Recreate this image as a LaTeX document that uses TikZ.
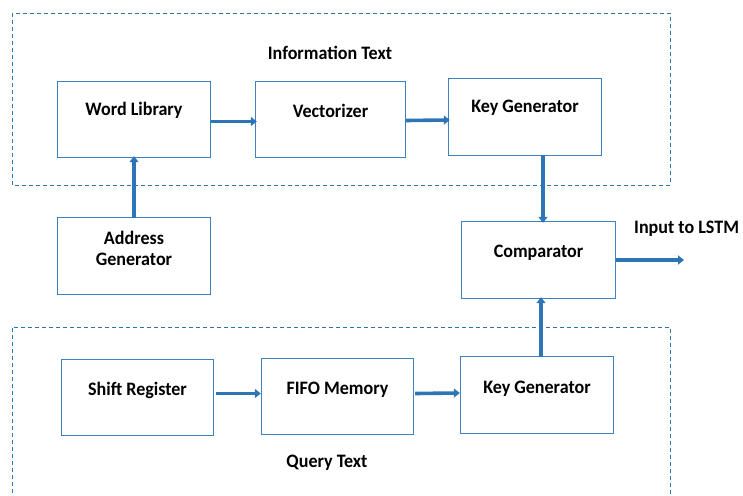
\documentclass[tikz,border=0pt]{standalone}
\usepackage{fontspec}
\setmainfont[FakeStretch=0.95]{Carlito}
\usetikzlibrary{arrows.meta,calc}
\definecolor{lineblue}{RGB}{46,117,182}
\definecolor{boxblue}{RGB}{60,130,190}
\tikzset{
  x=1pt, y=-1pt,
  block/.style={draw=boxblue, line width=1.1pt, fill=white, inner sep=0pt},
  lbl/.style={font=\bfseries\fontsize{19}{22}\selectfont, align=center, text=black},
  flow/.style={draw=lineblue, line width=3.6pt, -{Triangle[length=6pt,width=9pt]}, shorten >=-1pt},
  group/.style={draw=lineblue, line width=0.9pt, dash pattern=on 4pt off 3pt},
}
\begin{document}
\begin{tikzpicture}
\useasboundingbox (0,0) rectangle (743,495);

% dashed group frames
\draw[group] (12,13) rectangle (670,185);
\draw[group] (12,500) -- (12,327) -- (670,327) -- (670,500);
\node[lbl] (infotext) at (330,53) {Information Text};
\node[lbl] (querytext) at (327,463) {Query Text};

% blocks
\node[minimum width=152pt, minimum height=75pt, inner sep=0pt] (wl) at (134,119.5) {};
\node[minimum width=149pt, minimum height=75pt, inner sep=0pt] (vec) at (330.5,119.5) {};
\node[minimum width=152pt, minimum height=76pt, inner sep=0pt] (kg1) at (525,117) {};
\node[minimum width=152pt, minimum height=76pt, inner sep=0pt] (ag) at (134,256) {};
\node[minimum width=153pt, minimum height=76pt, inner sep=0pt] (cmp) at (538.5,260) {};
\node[minimum width=151pt, minimum height=75pt, inner sep=0pt] (sr) at (137.5,397.5) {};
\node[minimum width=151pt, minimum height=75pt, inner sep=0pt] (fifo) at (337.5,396.5) {};
\node[minimum width=152pt, minimum height=76pt, inner sep=0pt] (kg2) at (537,395) {};
\foreach \n in {wl,vec,kg1,ag,cmp,sr,fifo,kg2}
  \draw[block] (\n.north west) rectangle (\n.south east);

% block captions
\node[lbl] (wlt) at ($(wl.north)+(0,29)$) {Word Library};
\node[lbl] (vect) at ($(vec.north)+(0,29)$) {Vectorizer};
\node[lbl] (kg1t) at ($(kg1.north)+(0,29)$) {Key Generator};
\node[lbl] (agt) at ($(ag.north)+(0,31)$) {Address\\[-1pt]Generator};
\node[lbl] (cmpt) at ($(cmp.north)+(0,31)$) {Comparator};
\node[lbl] (srt) at ($(sr.north)+(0,31)$) {Shift Register};
\node[lbl] (fifot) at ($(fifo.north)+(0,31)$) {FIFO Memory};
\node[lbl] (kg2t) at ($(kg2.north)+(0,32)$) {Key Generator};

% output
\coordinate (out) at (683,260);
\node[lbl, anchor=west, inner xsep=0pt] (outt) at (634,229) {Input to LSTM};

% connectors
\draw[flow] ($(wl.east)+(1,2)$) -- ($(vec.west)+(0,2)$);
\draw[flow] ($(vec.east)+(1,1)$) -- ($(kg1.west)+(0,3)$);
\draw[flow] (ag.north) -- (wl.south);
\draw[flow] ($(kg1.south)+(18,0)$) -- ($(cmp.north)+(4.5,0)$);
\draw[flow] ($(cmp.east)+(1,0)$) -- (out);
\draw[flow] ($(sr.east)+(3,-4)$) -- ($(fifo.west)+(-2,-3)$);
\draw[flow] ($(fifo.east)+(2,-3)$) -- ($(kg2.west)+(-2,-2)$);
\draw[flow] ($(kg2.north)+(4,0)$) -- ($(cmp.south)+(2.5,0)$);
\end{tikzpicture}
\end{document}
